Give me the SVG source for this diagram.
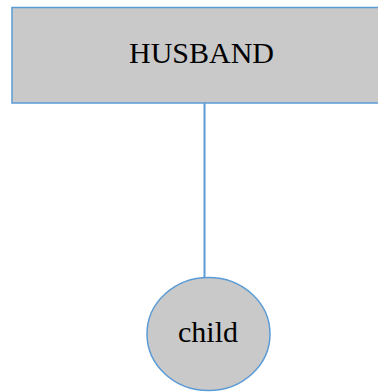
<svg xmlns="http://www.w3.org/2000/svg" width="378" height="392" viewBox="0 0 378 392">
<style>
.node{fill:#c9c9c9;stroke:#5b9bd5;stroke-width:1.5}
.lbl{font-family:"Liberation Serif","Times New Roman",serif;font-size:30px;fill:#000;text-anchor:middle}
.conn{stroke:#5b9bd5;stroke-width:2;fill:none}
</style>
<rect width="378" height="392" fill="#fff"/>
<g id="connectors">
<line class="conn" x1="204.5" y1="103" x2="204.5" y2="277"/>
</g>
<g id="husband">
<rect class="node" x="12" y="7.5" width="380" height="95.5"/>
<text class="lbl" x="201.5" y="63">HUSBAND</text>
</g>
<g id="child">
<ellipse class="node" cx="208.5" cy="334" rx="61.5" ry="56.5"/>
<text class="lbl" x="208" y="341.5">child</text>
</g>
</svg>
